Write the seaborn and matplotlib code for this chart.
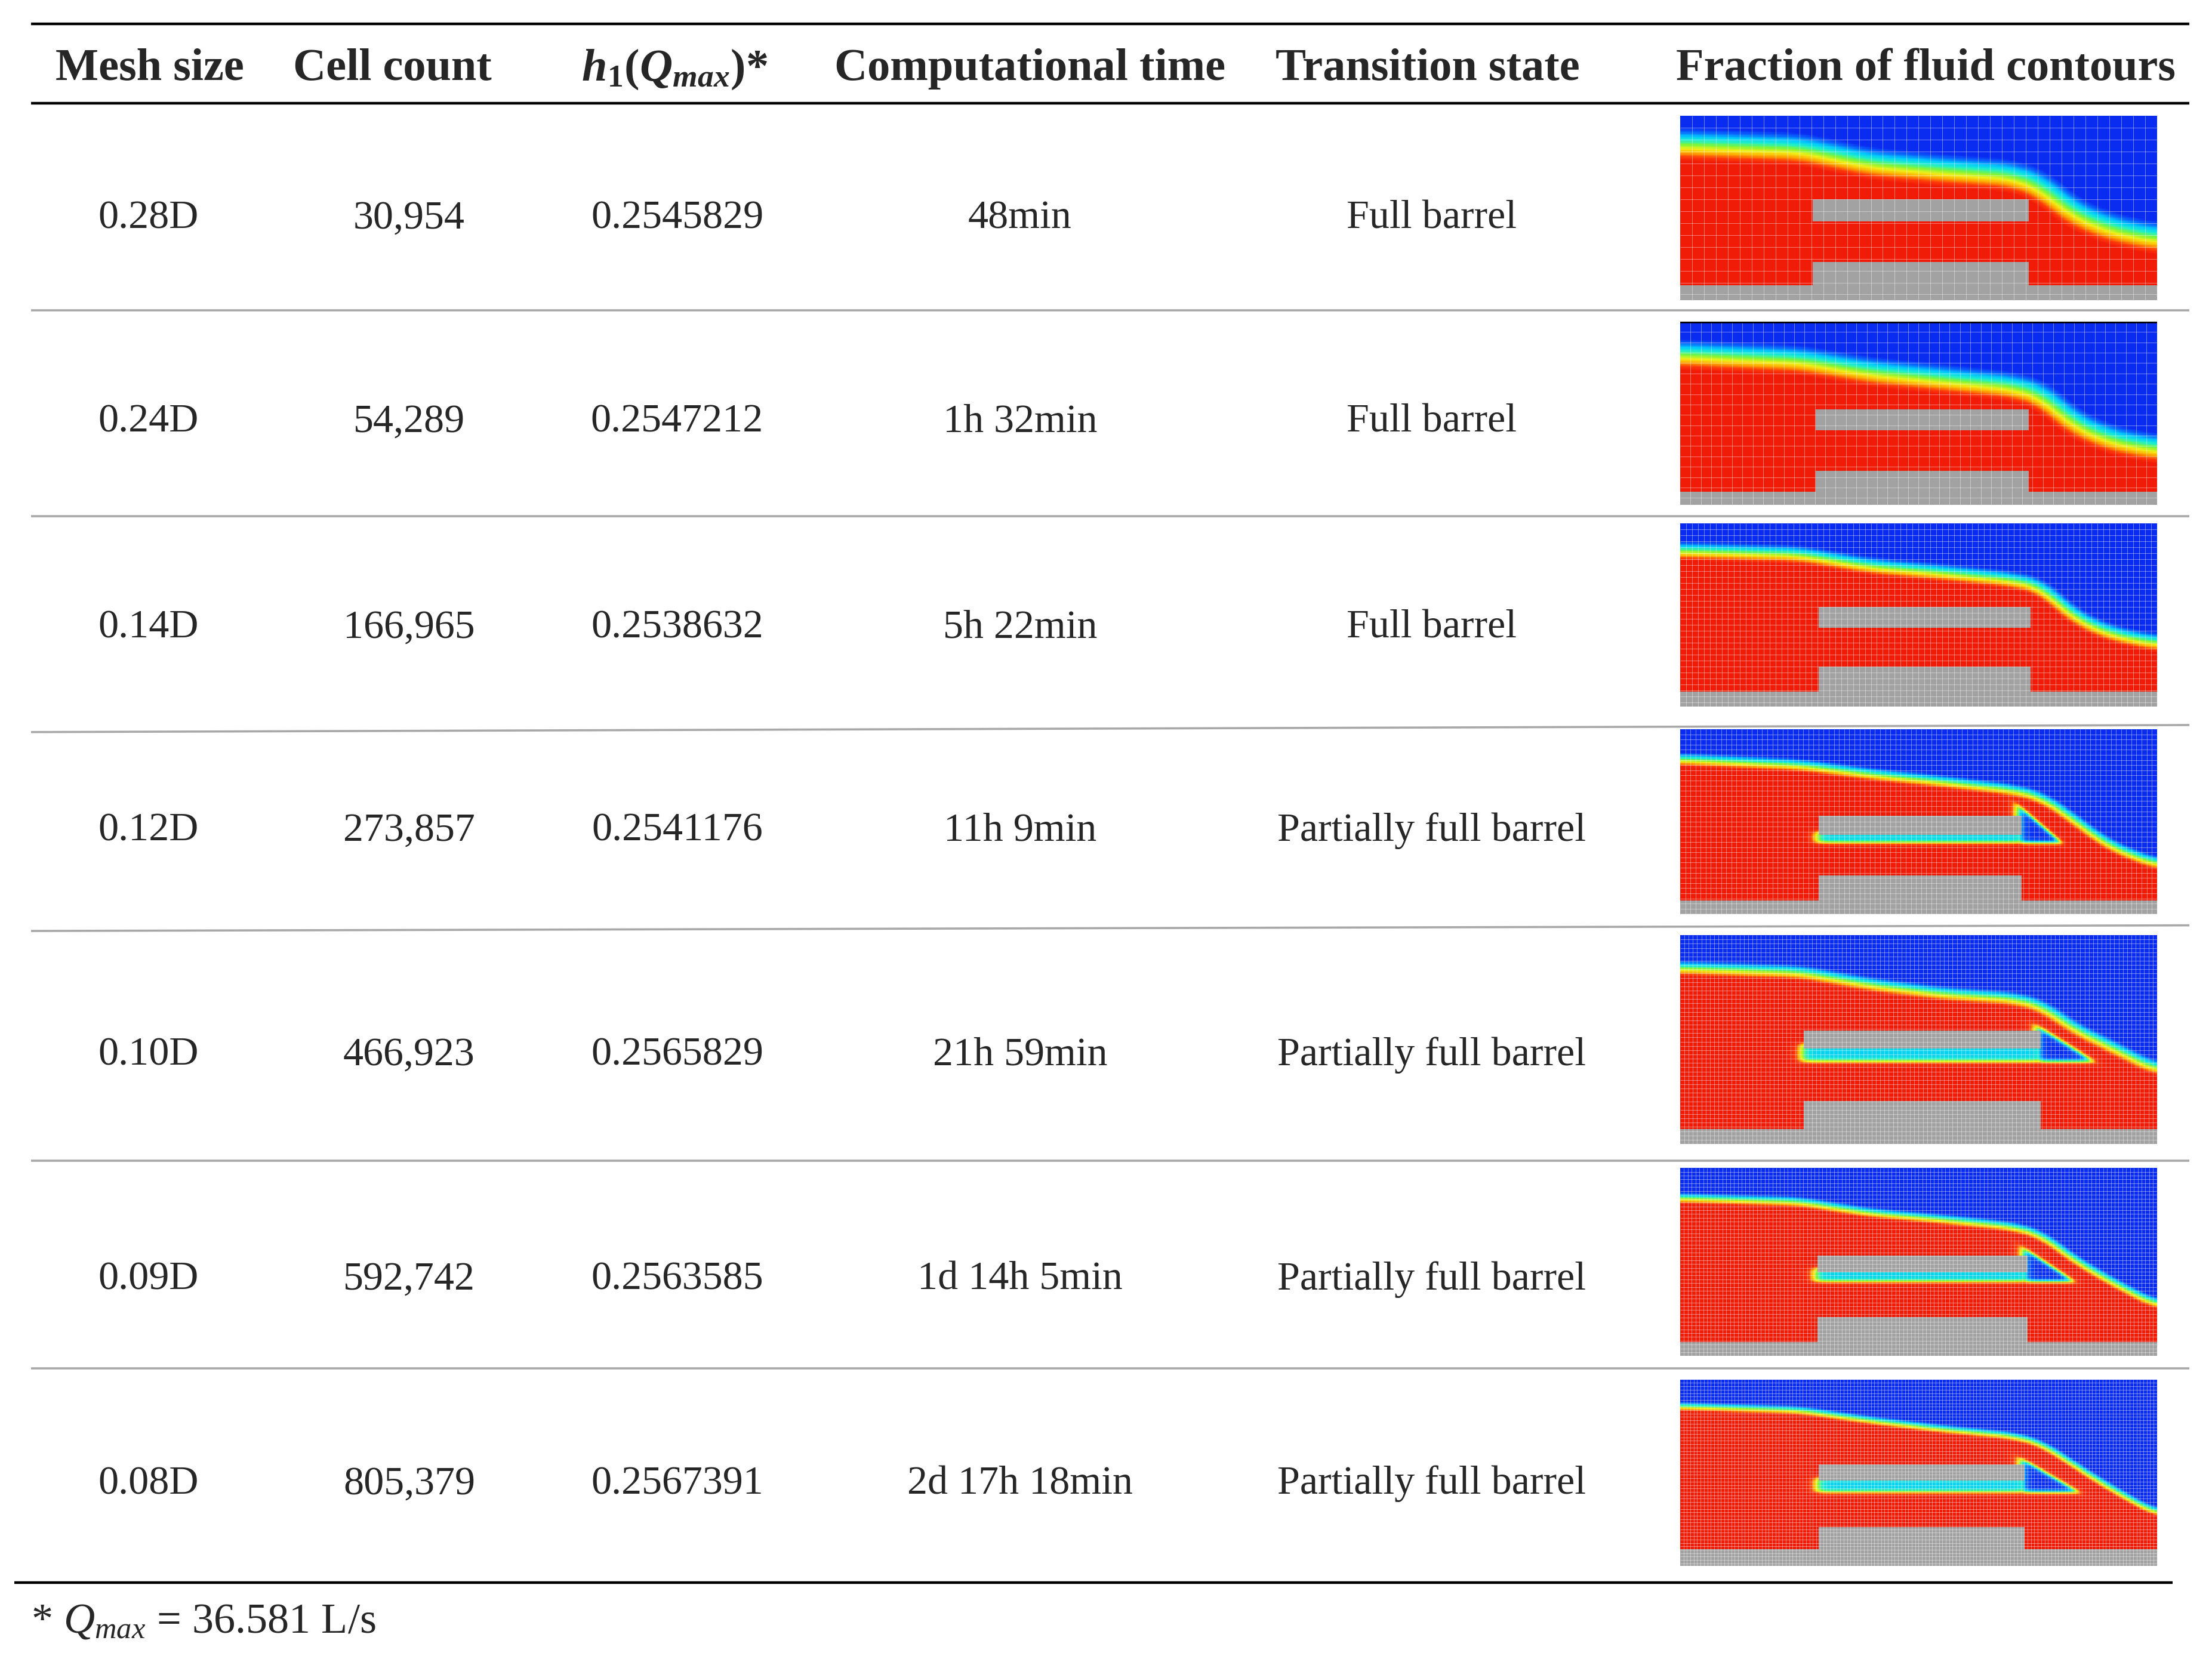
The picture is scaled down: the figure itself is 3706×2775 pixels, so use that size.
"""Mesh sensitivity table with fraction-of-fluid contour thumbnails."""

import matplotlib

matplotlib.use("Agg")

import matplotlib.pyplot as plt
import numpy as np
import seaborn as sns
from matplotlib.colors import LinearSegmentedColormap

# ---- table values -------------------------------------------------------
headers = ["Mesh size", "Cell count",
           r"$\mathbfit{h}_{\mathbf{1}}\mathbf{(}\mathbfit{Q}_{\mathbfit{max}}\mathbf{)}$*",
           "Computational time", "Transition state", "Fraction of fluid contours"]
mesh_sizes = ["0.28D", "0.24D", "0.14D", "0.12D", "0.10D", "0.09D", "0.08D"]
cell_counts = ["30,954", "54,289", "166,965", "273,857", "466,923", "592,742", "805,379"]
h1_values = ["0.2545829", "0.2547212", "0.2538632", "0.2541176", "0.2565829", "0.2563585", "0.2567391"]
comp_times = ["48min", "1h 32min", "5h 22min", "11h 9min", "21h 59min", "1d 14h 5min", "2d 17h 18min"]
transition_states = ["Full barrel", "Full barrel", "Full barrel", "Partially full barrel",
                     "Partially full barrel", "Partially full barrel", "Partially full barrel"]
footnote = r"* $Q_{max}$ = 36.581 L/s"

# ---- contour thumbnails (fractions of the thumbnail width / height) ------
surface_x = [0.0, 0.25, 0.4, 0.55, 0.7, 0.76, 0.82, 0.9, 1.0]
surface_y = [
    [0.845, 0.820, 0.740, 0.705, 0.675, 0.610, 0.480, 0.390, 0.335],
    [0.820, 0.790, 0.725, 0.685, 0.645, 0.595, 0.455, 0.358, 0.305],
    [0.850, 0.830, 0.765, 0.730, 0.690, 0.650, 0.500, 0.400, 0.345],
    [0.836, 0.805, 0.755, 0.715, 0.670, 0.630, 0.520, 0.370, 0.267],
    [0.843, 0.823, 0.763, 0.720, 0.696, 0.660, 0.560, 0.470, 0.355],
    [0.840, 0.820, 0.760, 0.725, 0.685, 0.640, 0.520, 0.400, 0.267],
    [0.856, 0.835, 0.780, 0.734, 0.697, 0.654, 0.550, 0.420, 0.277],
]
floor_top = [0.084, 0.070, 0.080, 0.073, 0.074, 0.074, 0.085]
barrel_x0 = [0.278, 0.285, 0.290, 0.290, 0.258, 0.286, 0.290]
barrel_x1 = [0.732, 0.730, 0.735, 0.717, 0.756, 0.728, 0.723]
invert_top = [0.213, 0.190, 0.220, 0.210, 0.207, 0.208, 0.207]
slab_bottom = [0.430, 0.410, 0.430, 0.426, 0.460, 0.446, 0.452]
slab_top = [0.547, 0.520, 0.546, 0.530, 0.542, 0.535, 0.543]
pocket_bottom = [np.nan, np.nan, np.nan, 0.385, 0.395, 0.394, 0.394]
pocket_apex_x = [np.nan, np.nan, np.nan, 0.800, 0.868, 0.826, 0.836]
pocket_top = [np.nan, np.nan, np.nan, 0.570, 0.555, 0.560, 0.564]
mesh_columns = [40, 46, 80, 93, 112, 124, 140]
interface_width = [0.075, 0.070, 0.045, 0.034, 0.034, 0.028, 0.024]

# ---- layout (reference pixel grid 1568 x 1174) ---------------------------
W, H = 1568, 1174
col_x = [105, 290, 480, 723, 1015]
header_x = [106, 278, 478, 730, 1012, 1365]
header_y = 49
row_y = [155, 299, 445, 589, 748, 907, 1052]
img_x = (1191, 1529)
img_y = [(82, 213), (228, 358), (371, 501), (517, 648), (663, 811), (828, 961), (978, 1110)]
separators = [(220, 220), (366, 366), (519, 514), (660, 656), (823, 823), (970, 970)]
fine_columns = 320

sns.set_theme(style="white")
plt.rcParams["font.family"] = ["Liberation Serif", "DejaVu Serif"]
plt.rcParams["mathtext.fontset"] = "custom"
plt.rcParams["mathtext.rm"] = "Liberation Serif"
plt.rcParams["mathtext.it"] = "Liberation Serif:italic"
plt.rcParams["mathtext.bf"] = "Liberation Serif:bold"
plt.rcParams["mathtext.bfit"] = "Liberation Serif:italic:bold"

vof_cmap = LinearSegmentedColormap.from_list(
    "vof", ["#0a2cf0", "#0a66ff", "#00c8ff", "#20f0c8", "#7cf53a",
            "#f0f018", "#ffa800", "#ff3a0a", "#f01c08"])
vof_cmap.set_over("#a2a2a2")


def sig(t):
    return 0.5 * (1.0 + np.tanh(t))


def fluid_field(i, ncols, nrows, aspect):
    x = (np.arange(ncols) + 0.5) / ncols
    y = 1.0 - (np.arange(nrows) + 0.5) / nrows
    X, Y = np.meshgrid(x, y)

    s = np.interp(x, surface_x, surface_y[i])
    k = max(1, ncols // 25)
    s = np.convolve(np.pad(s, k, mode="edge"), np.ones(2 * k + 1) / (2 * k + 1), mode="valid")
    slope = np.gradient(s, x) * aspect
    dist = (Y - s[None, :]) / np.sqrt(1.0 + slope[None, :] ** 2)
    w = interface_width[i]
    water = np.clip(0.5 - dist / (2.4 * w), 0.0, 1.0)

    x0, x1 = barrel_x0[i], barrel_x1[i]
    pb = pocket_bottom[i]
    if not np.isnan(pb):
        pw = 0.014
        band = 0.72 * (sig((Y - pb) / pw) * sig((slab_bottom[i] + 0.02 - Y) / pw)
                       * sig((X - x0 + 0.006) / pw)
                       * sig((x1 + 0.01 - X) / pw))
        apex, top = pocket_apex_x[i], pocket_top[i]
        line = top + (pb - top) * (X - x1) / (apex - x1)
        tslope = (pb - top) / (apex - x1) * aspect
        tri = (sig((Y - pb) / pw) * sig((line - Y) / np.sqrt(1 + tslope ** 2) / pw)
               * sig((X - x1 + 0.01) / pw))
        water = water * (1.0 - np.maximum(band, tri))

    solid = ((Y < floor_top[i])
             | ((Y < invert_top[i]) & (X > x0) & (X < x1))
             | ((Y > slab_bottom[i]) & (Y < slab_top[i]) & (X > x0) & (X < x1)))
    water[solid] = 2.0
    return water


fig = plt.figure(figsize=(37.06, 27.75), dpi=100)
base = fig.add_axes([0, 0, 1, 1])
base.set_xlim(0, W)
base.set_ylim(H, 0)
base.axis("off")

# rules
for yy in (17, 73):
    base.plot([22, 1552], [yy, yy], color="black", lw=3.2, solid_capstyle="butt")
base.plot([10, 1540], [1122, 1122], color="black", lw=3.2, solid_capstyle="butt")
for yl, yr in separators:
    base.plot([22, 1552], [yl, yr], color="#a8a8a8", lw=2.6, solid_capstyle="butt")

# header
for hx, label in zip(header_x, headers):
    base.text(hx, header_y, label, ha="center", va="center", fontsize=55, fontweight="bold")

# body text
columns = [mesh_sizes, cell_counts, h1_values, comp_times, transition_states]
for cx, values in zip(col_x, columns):
    for ry, value in zip(row_y, values):
        base.text(cx, ry, value, ha="center", va="center", fontsize=49)

base.text(22, 1150, footnote, ha="left", va="center", fontsize=52)

# contour thumbnails: smooth field drawn fine, mesh drawn on top at the cell size
for i, (y0, y1) in enumerate(img_y):
    w_px = img_x[1] - img_x[0]
    h_px = y1 - y0
    aspect = h_px / w_px
    nrows = int(round(fine_columns * aspect))
    field = fluid_field(i, fine_columns, nrows, aspect)
    ax = fig.add_axes([img_x[0] / W, 1 - y1 / H, w_px / W, h_px / H])
    sns.heatmap(field, ax=ax, cmap=vof_cmap, vmin=0, vmax=1, cbar=False,
                xticklabels=False, yticklabels=False, linewidths=0, rasterized=True)
    step = fine_columns / mesh_columns[i]
    ax.vlines(np.arange(step, fine_columns, step), 0, nrows,
              color="white", alpha=0.5, lw=0.6)
    ax.hlines(np.arange(step, nrows, step), 0, fine_columns,
              color="white", alpha=0.5, lw=0.6)
    ax.set_xlim(0, fine_columns)
    ax.set_ylim(nrows, 0)
    ax.set_xlabel("")
    ax.set_ylabel("")
    if i == 1:
        ax.axhline(0, color="black", lw=4)

fig.savefig("out.png", dpi=100)
plt.close(fig)
